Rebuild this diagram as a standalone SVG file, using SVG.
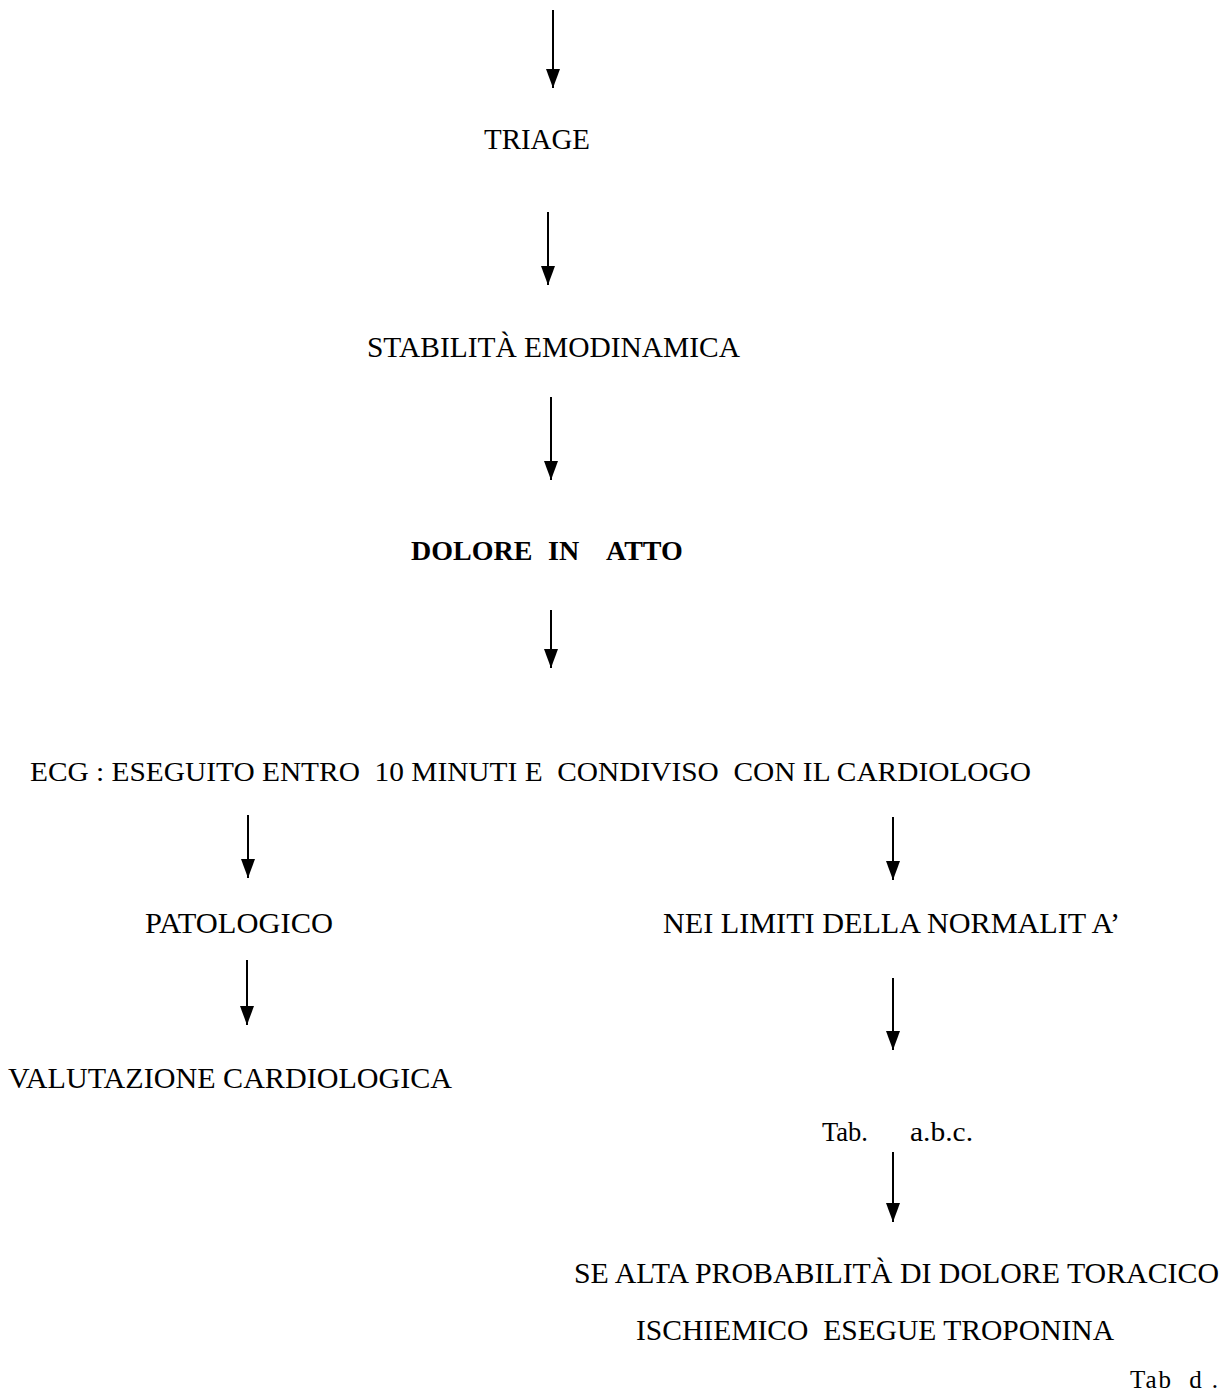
<svg xmlns="http://www.w3.org/2000/svg" width="1225" height="1398" viewBox="0 0 1225 1398">
<style>
  text { font-family: "Liberation Serif", "Times New Roman", serif; font-size: 30px; fill: #000; }
  .b { font-weight: bold; font-size: 28px; }
  .s { font-size: 28px; }
  .t { font-size: 25px; }
  .c { stroke: #000; stroke-width: 2; fill: none; }
</style>
<defs>
  <marker id="ah" markerUnits="userSpaceOnUse" markerWidth="20" markerHeight="16" refX="19" refY="8" orient="auto" viewBox="0 0 20 16">
    <path d="M0,1 L19,8 L0,15 Z" fill="#000"/>
  </marker>
</defs>
<rect width="1225" height="1398" fill="#fff"/>
<g id="connectors">
  <path class="c" d="M553,10 V88" marker-end="url(#ah)"/>
  <path class="c" d="M548,212 V285" marker-end="url(#ah)"/>
  <path class="c" d="M551,397 V480" marker-end="url(#ah)"/>
  <path class="c" d="M551,610 V668" marker-end="url(#ah)"/>
  <path class="c" d="M248,815 V878" marker-end="url(#ah)"/>
  <path class="c" d="M893,817 V880" marker-end="url(#ah)"/>
  <path class="c" d="M247,960 V1025" marker-end="url(#ah)"/>
  <path class="c" d="M893,978 V1050" marker-end="url(#ah)"/>
  <path class="c" d="M893,1152 V1222" marker-end="url(#ah)"/>
</g>
<g id="triage"><text x="484" y="149" textLength="106" lengthAdjust="spacingAndGlyphs">TRIAGE</text></g>
<g id="stabilita"><text x="367" y="357" textLength="373" lengthAdjust="spacingAndGlyphs">STABILITÀ EMODINAMICA</text></g>
<g id="dolore">
  <text class="b" x="411" y="560">DOLORE</text>
  <text class="b" x="548" y="560">IN</text>
  <text class="b" x="606" y="560">ATTO</text>
</g>
<g id="ecg"><text class="s" x="30" y="781" textLength="1001" lengthAdjust="spacingAndGlyphs" xml:space="preserve">ECG : ESEGUITO ENTRO  10 MINUTI E  CONDIVISO  CON IL CARDIOLOGO</text></g>
<g id="patologico"><text x="145" y="933" textLength="188" lengthAdjust="spacingAndGlyphs">PATOLOGICO</text></g>
<g id="normalita"><text x="663" y="933" textLength="457" lengthAdjust="spacingAndGlyphs">NEI LIMITI DELLA NORMALIT A’</text></g>
<g id="valutazione"><text x="8" y="1088" textLength="444" lengthAdjust="spacingAndGlyphs">VALUTAZIONE CARDIOLOGICA</text></g>
<g id="tababc">
  <text class="s" x="822" y="1141" textLength="46" lengthAdjust="spacingAndGlyphs">Tab.</text>
  <text class="s" x="910" y="1141" textLength="63" lengthAdjust="spacingAndGlyphs">a.b.c.</text>
</g>
<g id="troponina">
  <text x="574" y="1283" textLength="645" lengthAdjust="spacingAndGlyphs">SE ALTA PROBABILITÀ DI DOLORE TORACICO</text>
  <text x="636" y="1340" textLength="478" lengthAdjust="spacingAndGlyphs" xml:space="preserve">ISCHIEMICO  ESEGUE TROPONINA</text>
</g>
<g id="tabd"><text class="t" x="1130" y="1388" textLength="88" lengthAdjust="spacing" xml:space="preserve">Tab  d .</text></g>
</svg>
